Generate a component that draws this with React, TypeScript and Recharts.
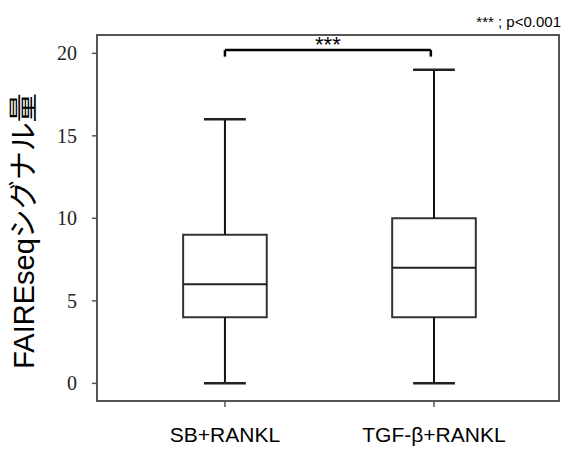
import React from 'react';
import { ComposedChart, XAxis, YAxis, ReferenceArea, ReferenceLine, Scatter } from 'recharts';

// ---- data ----
const categories = ['SB+RANKL', 'TGF-β+RANKL'];
const positions = [1, 2];
const mins = [0, 0];
const q1s = [4, 4];
const medians = [6, 7];
const q3s = [9, 10];
const maxs = [16, 19];
const yTicks = [0, 5, 10, 15, 20];
const yLabel = 'FAIREseqシグナル量';
const sigMark = '***';
const pNote = '*** ; p<0.001';
const bracketFrom = 1;
const bracketTo = 1.985;
const bracketY = 20.2;
const bracketLegY = 19.8;

// ---- layout/style ----
const X_DOMAIN: [number, number] = [0.388, 2.598];
const Y_DOMAIN: [number, number] = [-1.07, 21.11];
const BOX_HALF = 0.2;
const CAP_HALF = 0.1;
const SANS = '"Liberation Sans", Arial, "Noto Sans CJK JP", sans-serif';
const SERIF = '"Liberation Serif", "Times New Roman", serif';

const points = positions.map((x, i) => ({ x, y: medians[i] }));

const LabelContent = () => (
  <g>
    <text
      x={34}
      y={231}
      transform="rotate(-90, 34, 231)"
      textAnchor="middle"
      fontFamily={SANS}
      fontSize={29}
      fill="#000"
    >
      {yLabel}
    </text>
    <text x={561} y={27} textAnchor="end" fontFamily={SANS} fontSize={15} fill="#000">
      {pNote}
    </text>
  </g>
);

export default function App() {
  return (
    <div style={{ position: 'absolute', left: 0, top: 0, background: '#fff' }}>
      <ComposedChart
        width={569}
        height={458}
        data={points}
        margin={{ top: 35, right: 10, bottom: 0, left: 0 }}
      >
        <XAxis
          type="number"
          dataKey="x"
          domain={X_DOMAIN}
          ticks={positions}
          interval={0}
          allowDataOverflow
          tickFormatter={(v: number) => categories[positions.indexOf(v)] ?? ''}
          axisLine={false}
          tickLine={{ stroke: '#555', strokeWidth: 1.5 }}
          tickSize={6}
          tickMargin={20}
          height={57}
          tick={{ fontFamily: SANS, fontSize: 21, fill: '#000' }}
        />
        <YAxis
          type="number"
          dataKey="y"
          domain={Y_DOMAIN}
          ticks={yTicks}
          interval={0}
          allowDataOverflow
          axisLine={false}
          tickLine={{ stroke: '#555', strokeWidth: 1.5 }}
          tickSize={5}
          tickMargin={15}
          width={97}
          tick={{ fontFamily: SERIF, fontSize: 20, fill: '#222' }}
          label={{ content: LabelContent }}
        />
        {/* frame */}
        <ReferenceArea
          x1={X_DOMAIN[0]}
          x2={X_DOMAIN[1]}
          y1={Y_DOMAIN[0]}
          y2={Y_DOMAIN[1]}
          fill="none"
          fillOpacity={0}
          stroke="#555"
          strokeWidth={2}
          strokeOpacity={1}
          ifOverflow="visible"
        />
        {/* whiskers */}
        {positions.map((x, i) => (
          <ReferenceLine
            key={`wu${i}`}
            segment={[{ x, y: q3s[i] }, { x, y: maxs[i] }]}
            stroke="#111"
            strokeWidth={2}
          />
        ))}
        {positions.map((x, i) => (
          <ReferenceLine
            key={`wl${i}`}
            segment={[{ x, y: mins[i] }, { x, y: q1s[i] }]}
            stroke="#111"
            strokeWidth={2}
          />
        ))}
        {positions.map((x, i) => (
          <ReferenceLine
            key={`cu${i}`}
            segment={[{ x: x - CAP_HALF, y: maxs[i] }, { x: x + CAP_HALF, y: maxs[i] }]}
            stroke="#222"
            strokeWidth={2.5}
          />
        ))}
        {positions.map((x, i) => (
          <ReferenceLine
            key={`cl${i}`}
            segment={[{ x: x - CAP_HALF, y: mins[i] }, { x: x + CAP_HALF, y: mins[i] }]}
            stroke="#222"
            strokeWidth={2.5}
          />
        ))}
        {/* boxes */}
        {positions.map((x, i) => (
          <ReferenceArea
            key={`b${i}`}
            x1={x - BOX_HALF}
            x2={x + BOX_HALF}
            y1={q1s[i]}
            y2={q3s[i]}
            fill="#fff"
            fillOpacity={1}
            stroke="#333"
            strokeWidth={2}
            strokeOpacity={1}
          />
        ))}
        {positions.map((x, i) => (
          <ReferenceLine
            key={`m${i}`}
            segment={[{ x: x - BOX_HALF, y: medians[i] }, { x: x + BOX_HALF, y: medians[i] }]}
            stroke="#222"
            strokeWidth={2}
          />
        ))}
        {/* significance bracket */}
        <ReferenceLine
          segment={[{ x: bracketFrom, y: bracketY }, { x: bracketTo, y: bracketY }]}
          stroke="#000"
          strokeWidth={2.5}
          label={{ value: sigMark, position: 'top', offset: -2, fontFamily: SANS, fontSize: 22, fill: '#000' }}
        />
        <ReferenceLine
          segment={[{ x: bracketFrom, y: bracketY }, { x: bracketFrom, y: bracketLegY }]}
          stroke="#000"
          strokeWidth={2.5}
        />
        <ReferenceLine
          segment={[{ x: bracketTo, y: bracketY }, { x: bracketTo, y: bracketLegY }]}
          stroke="#000"
          strokeWidth={2.5}
        />
        <Scatter dataKey="y" isAnimationActive={false} shape={() => <g />} />
      </ComposedChart>
    </div>
  );
}
